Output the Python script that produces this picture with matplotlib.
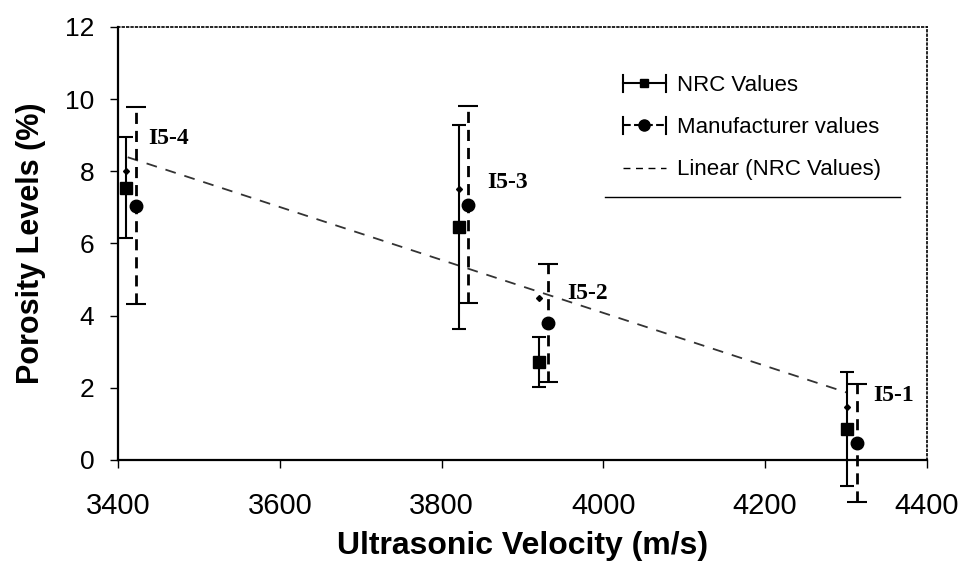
import matplotlib
matplotlib.use("Agg")
import matplotlib.pyplot as plt
from matplotlib.lines import Line2D
from matplotlib.legend_handler import HandlerBase

plt.rcParams['font.family'] = ['Liberation Sans', 'DejaVu Sans']

# sample names and positions
samples = ['I5-4', 'I5-3', 'I5-2', 'I5-1']

nrc_vel = [3410, 3822, 3920, 4301]
nrc_por = [7.55, 6.45, 2.72, 0.85]
nrc_err = [1.40, 2.83, 0.69, 1.58]

man_vel = [3422, 3833, 3931, 4313]
man_por = [7.04, 7.08, 3.80, 0.47]
man_err = [2.73, 2.74, 1.63, 1.63]

# small diamond markers sitting on the NRC bars
mid_por = [8.0, 7.5, 4.5, 1.47]

# linear trend (NRC values) end points
trend_vel = [3412, 4302]
trend_por = [8.39, 1.86]

# sample label anchor points
label_vel = [3437, 3856, 3955, 4333]
label_por = [8.9, 7.7, 4.6, 1.8]


class HErrHandler(HandlerBase):
    # horizontal error bar style legend key, like the Excel one
    def __init__(self, marker, ms, ls):
        super().__init__()
        self.marker = marker
        self.ms = ms
        self.ls = ls

    def create_artists(self, legend, orig_handle, xdescent, ydescent,
                       width, height, fontsize, trans):
        y = height / 2 - ydescent
        x0 = -xdescent
        x1 = x0 + width
        h = height * 0.55
        art = [
            Line2D([x0, x1], [y, y], color='black', lw=1.5, ls=self.ls),
            Line2D([x0, x0], [y - h, y + h], color='black', lw=1.5),
            Line2D([x1, x1], [y - h, y + h], color='black', lw=1.5),
            Line2D([(x0 + x1) / 2], [y], marker=self.marker, ms=self.ms,
                   color='black', ls='none'),
        ]
        for a in art:
            a.set_transform(trans)
        return art


fig = plt.figure(figsize=(9.64, 5.69), dpi=100)
ax = fig.add_axes([0.1224, 0.1916, 0.8392, 0.761])

ax.errorbar(nrc_vel, nrc_por, yerr=nrc_err, fmt='s', color='black',
            ms=8, elinewidth=1.5, capsize=5, capthick=1.5, clip_on=False,
            zorder=3)
eb = ax.errorbar(man_vel, man_por, yerr=man_err, fmt='o', color='black',
                 ms=9, elinewidth=2, capsize=7.5, capthick=1.5, clip_on=False,
                 zorder=3)
eb[2][0].set_linestyle((0, (4, 2.5)))

ax.plot(nrc_vel, mid_por, 'D', color='black', ms=3, zorder=4)
ax.plot(trend_vel, trend_por, color='#333333', lw=1.3,
        dashes=(6, 5), zorder=2)

for s, x, y in zip(samples, label_vel, label_por):
    ax.text(x, y, s, family=['Liberation Serif'], fontweight='bold',
            fontsize=17, ha='left', va='center')

ax.set_xlim(3400, 4400)
ax.set_ylim(0, 12)
ax.set_xticks(range(3400, 4401, 200))
ax.set_yticks(range(0, 13, 2))
ax.tick_params(axis='both', direction='out', length=6, width=1)
ax.tick_params(axis='x', pad=17, labelsize=21)
ax.tick_params(axis='y', pad=11, labelsize=19)

ax.spines['left'].set_linewidth(1.6)
ax.spines['bottom'].set_linewidth(1.6)
for side in ['top', 'right']:
    ax.spines[side].set_linestyle(':')
    ax.spines[side].set_linewidth(1.2)

ax.set_xlabel('Ultrasonic Velocity (m/s)', fontsize=23, fontweight='bold',
              labelpad=8)
ax.set_ylabel('Porosity Levels (%)', fontsize=22, fontweight='bold',
              labelpad=14)

h_nrc = Line2D([], [])
h_man = Line2D([], [])
h_lin = Line2D([], [], color='black', lw=1, dashes=(5, 4))
ax.legend([h_nrc, h_man, h_lin],
          ['NRC Values', 'Manufacturer values', 'Linear (NRC Values)'],
          handler_map={h_nrc: HErrHandler('s', 6, '-'),
                       h_man: HErrHandler('o', 8, '--')},
          loc='upper left', bbox_to_anchor=(0.6, 0.935), frameon=False,
          fontsize=16, handlelength=1.9, handletextpad=0.5,
          labelspacing=0.95)
# rule under the legend
ax.plot([0.602, 0.967], [0.607, 0.607], color='black', lw=1,
        transform=ax.transAxes)

fig.savefig('out.png', dpi=100)
